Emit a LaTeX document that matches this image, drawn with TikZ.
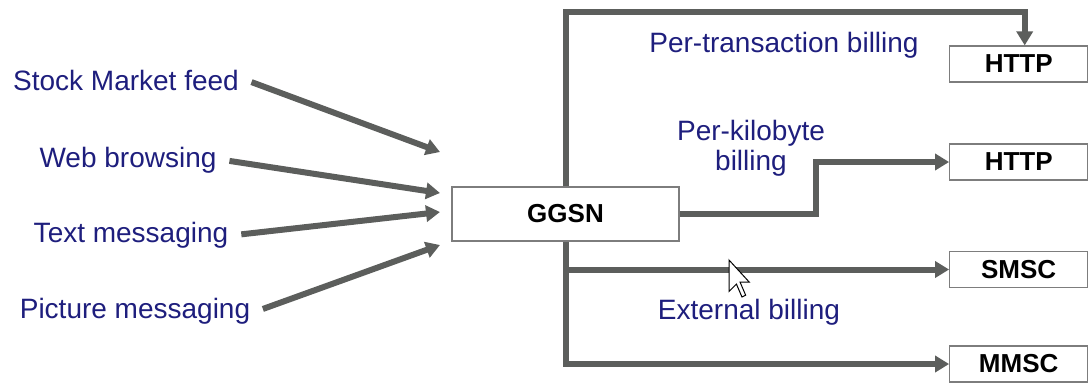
\documentclass[tikz,border=0pt]{standalone}
\usepackage{fontspec}
\setmainfont{Liberation Sans}
\usetikzlibrary{arrows.meta}

\definecolor{labelblue}{RGB}{30,30,125}
\definecolor{pipegray}{RGB}{92,94,92}
\definecolor{boxgray}{RGB}{125,125,125}

\begin{document}
\begin{tikzpicture}
    [
        x = 0.5pt, y = -0.5pt,
        service/.style = {
            text=labelblue, font=\fontsize{14}{15}\selectfont
            },
        box/.style = {
            rectangle, draw=boxgray, line width=0.6pt, fill=white,
            font=\fontsize{13}{14}\selectfont\bfseries,
            minimum width=69pt, minimum height=18pt, inner sep=0pt
            },
        pipe/.style = {
            draw=pipegray, line width=3pt,
            -{Triangle[length=7pt, width=8pt]}
            },
    ]
    \useasboundingbox (0,0) rectangle (1091,382);

    % incoming traffic
    \node[service] (feed)    at (126,80)  {Stock Market feed};
    \node[service] (web)     at (128,160) {Web browsing};
    \node[service] (text)    at (131,235) {Text messaging};
    \node[service] (picture) at (135,311) {Picture messaging};

    \node[box, minimum width=113.5pt, minimum height=27pt] (ggsn) at (565.5,214) {GGSN};

    \coordinate (feed in)    at (440,152);
    \coordinate (web in)     at (440,193);
    \coordinate (text in)    at (440,212);
    \coordinate (picture in) at (440,245);

    \draw[pipe, shorten <=3pt] (feed.east)    -- (feed in);
    \draw[pipe, shorten <=3pt] (web.east)     -- (web in);
    \draw[pipe, shorten <=3pt] (text.east)    -- (text in);
    \draw[pipe, shorten <=3pt] (picture.east) -- (picture in);

    % outgoing side
    \node[box] (http trans) at (1018.7,64)  {HTTP};
    \node[box] (http kb)    at (1018.7,162) {HTTP};
    \node[box] (smsc)       at (1018.7,269.5) {SMSC};
    \node[box] (mmsc)       at (1018.7,364) {MMSC};

    \draw[pipe] (ggsn.north) -- ++(0,-174.3) -| ([xshift=3pt]http trans.north);
    \draw[pipe] (ggsn.east) -- ++(136.5,0) |- (http kb.west);
    \draw[pipe] (ggsn.south |- smsc.west) -- (smsc.west);
    \draw[pipe] (ggsn.south) |- (mmsc.west);

    \node[service] (trans bill) at (784,45) {Per-transaction billing};
    \node[service, align=center] (kb bill) at (751,148) {Per-kilobyte\\billing};
    \node[service] (ext bill) at (749,312) {External billing};

    % mouse pointer
    \begin{scope}[shift={(729,260)}, scale=1.85]
        \draw[black, fill=white, line width=0.5pt, line join=miter]
            (0,0) -- (0,17) -- (4,13) -- (7,20) -- (9,19) -- (6,12) -- (11,12) -- cycle;
    \end{scope}
\end{tikzpicture}
\end{document}
